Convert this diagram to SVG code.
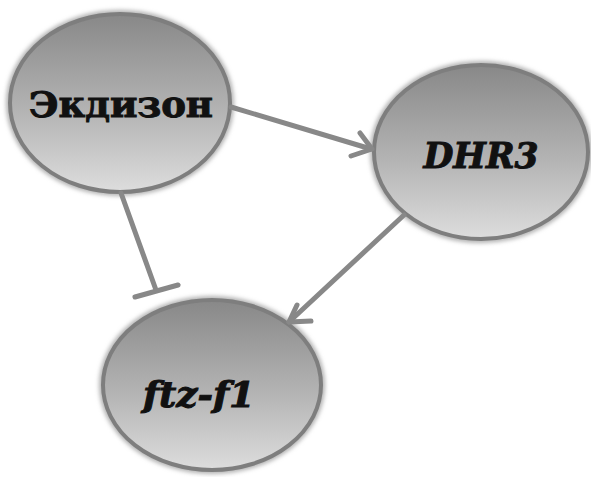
<svg xmlns="http://www.w3.org/2000/svg" width="591" height="477" viewBox="0 0 591 477">
<defs>
<linearGradient id="g" x1="0" y1="0" x2="0" y2="1">
<stop offset="0" stop-color="#888888"/>
<stop offset="0.55" stop-color="#b4b4b4"/>
<stop offset="1" stop-color="#dddddd"/>
</linearGradient>
<filter id="sh" x="-10%" y="-10%" width="120%" height="120%">
<feGaussianBlur stdDeviation="2"/>
</filter>
<style>
.node{fill:url(#g);stroke:#7e7e7e;stroke-width:4}
.halo{fill:none;stroke:#b0b0b0;stroke-width:6;filter:url(#sh)}
.lbl{font-family:"DejaVu Serif","Liberation Serif",serif;font-weight:bold;fill:#111;stroke:#111;stroke-width:1}
.edge{stroke:#888;stroke-width:5;fill:none;stroke-linecap:round;stroke-linejoin:round}
</style>
</defs>
<rect width="591" height="477" fill="#fff"/>
<g id="n-ecdysone">
<ellipse class="halo" cx="120" cy="103" rx="111" ry="90"/>
<ellipse class="node" cx="120" cy="103" rx="110" ry="89"/>
<text class="lbl" x="121" y="117" font-size="35" text-anchor="middle" textLength="184" lengthAdjust="spacingAndGlyphs">Экдизон</text>
</g>
<g id="n-dhr3">
<ellipse class="halo" cx="481" cy="152" rx="108" ry="88"/>
<ellipse class="node" cx="481" cy="152" rx="107" ry="87"/>
<text class="lbl" x="481" y="168" font-size="35" font-style="italic" text-anchor="middle" textLength="115" lengthAdjust="spacingAndGlyphs">DHR3</text>
</g>
<g id="n-ftzf1">
<ellipse class="halo" cx="212" cy="385" rx="110" ry="86"/>
<ellipse class="node" cx="212" cy="385" rx="109" ry="85"/>
<text class="lbl" x="199" y="407" font-size="35" font-style="italic" text-anchor="middle" textLength="112" lengthAdjust="spacingAndGlyphs">ftz-f1</text>
</g>
<g id="connectors">
<path class="edge" d="M231,107 L371,149"/>
<path class="edge" d="M360,133 L372,149 L351,156"/>
<path class="edge" d="M404,215 L289,322"/>
<path class="edge" d="M297,305 L289,322 L311,321"/>
<path class="edge" d="M121,193 L156,290"/>
<path class="edge" d="M135,297 L178,285"/>
</g>
</svg>
